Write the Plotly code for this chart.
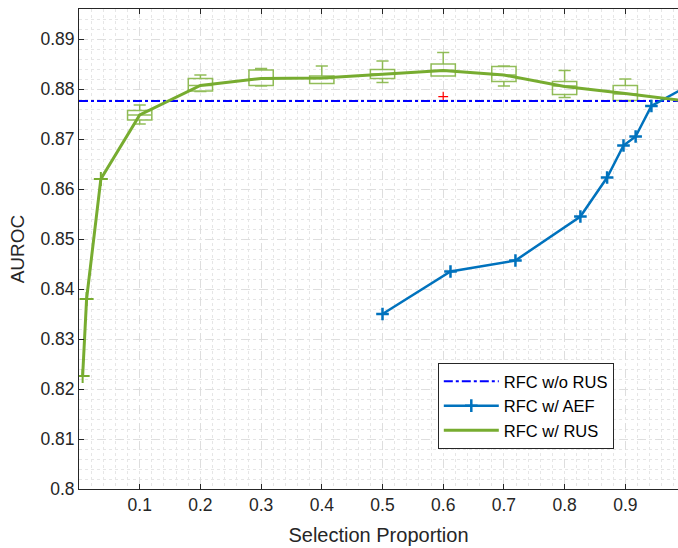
import plotly.graph_objects as go

# ---- data ----
base_y = 0.8776  # RFC w/o RUS

aef_x = [0.5, 0.612, 0.719, 0.826, 0.870, 0.897, 0.917, 0.943, 1.0]
aef_y = [0.8350, 0.8435, 0.8457, 0.8545, 0.8623, 0.8687, 0.8705, 0.8766, 0.8804]

rus_x = [0.006, 0.0125, 0.036, 0.1, 0.2, 0.3, 0.4, 0.5, 0.6, 0.7, 0.8, 0.9, 1.0]
rus_y = [0.8226, 0.8380, 0.8620, 0.8748, 0.8807, 0.8821, 0.8822, 0.8830, 0.8837, 0.8828, 0.8805, 0.8791, 0.8776]

box_x = [0.1, 0.2, 0.3, 0.4, 0.5, 0.6, 0.7, 0.8, 0.9]
box_lf = [0.8730, 0.8795, 0.8806, 0.8811, 0.8813, 0.8826, 0.8806, 0.8783, 0.8776]
box_q1 = [0.8738, 0.8796, 0.8807, 0.8811, 0.8821, 0.8826, 0.8815, 0.8789, 0.8777]
box_med = [0.8748, 0.8807, 0.8820, 0.8821, 0.8830, 0.8837, 0.8828, 0.8806, 0.8790]
box_q3 = [0.8757, 0.8821, 0.8838, 0.8826, 0.8839, 0.8850, 0.8845, 0.8815, 0.8807]
box_uf = [0.8768, 0.8828, 0.8841, 0.8846, 0.8856, 0.8873, 0.8846, 0.8837, 0.8820]

outlier_x = [0.6]
outlier_y = [0.87846]

x_ticks = [0.1, 0.2, 0.3, 0.4, 0.5, 0.6, 0.7, 0.8, 0.9]
y_ticks = [0.80, 0.81, 0.82, 0.83, 0.84, 0.85, 0.86, 0.87, 0.88, 0.89]
y_ticklabels = ["0.8", "0.81", "0.82", "0.83", "0.84", "0.85", "0.86", "0.87", "0.88", "0.89"]

GREEN = "#77AC30"
BLUE = "#0072BD"
FONT = "Liberation Sans"

fig = go.Figure()

fig.add_trace(go.Box(
    x=box_x, q1=box_q1, median=box_med, q3=box_q3,
    lowerfence=box_lf, upperfence=box_uf,
    width=0.04, whiskerwidth=0.5,
    line=dict(color="rgba(119,172,48,0.8)", width=1.5),
    fillcolor="rgba(0,0,0,0)",
    showlegend=False, hoverinfo="skip",
))

fig.add_trace(go.Scatter(
    x=outlier_x, y=outlier_y, mode="markers",
    marker=dict(symbol="cross-thin", size=7, line=dict(color="red", width=1.2)),
    showlegend=False,
))

fig.add_trace(go.Scatter(
    x=[0, 1], y=[base_y, base_y], mode="lines",
    line=dict(color="#0000FF", width=2, dash="dashdot"),
    name="RFC w/o RUS",
))

fig.add_trace(go.Scatter(
    x=aef_x, y=aef_y, mode="lines+markers",
    line=dict(color=BLUE, width=2.5),
    marker=dict(symbol="cross-thin", size=9, line=dict(color=BLUE, width=2.5)),
    name="RFC w/ AEF",
))

fig.add_trace(go.Scatter(
    x=rus_x, y=rus_y, mode="lines",
    line=dict(color=GREEN, width=3),
    name="RFC w/ RUS",
))

fig.add_trace(go.Scatter(
    x=rus_x[:3], y=rus_y[:3], mode="markers",
    marker=dict(symbol="cross-thin", size=10, line=dict(color=GREEN, width=2)),
    showlegend=False,
))

axis_col = "#262626"
fig.update_layout(
    width=678, height=548,
    margin=dict(l=79, r=0, t=9, b=59, autoexpand=False),
    paper_bgcolor="white", plot_bgcolor="white",
    font=dict(family=FONT, color=axis_col, size=17),
    showlegend=True,
    legend=dict(
        x=0.599, y=0.2625, xanchor="left", yanchor="top",
        bordercolor=axis_col, borderwidth=1, bgcolor="white",
        font=dict(size=16.5, family=FONT, color="#000000"),
        tracegroupgap=0, itemwidth=55,
    ),
)

fig.update_xaxes(
    range=[0, 0.9868], tickvals=x_ticks, ticktext=[str(v) for v in x_ticks],
    ticks="inside", ticklen=5, tickcolor=axis_col,
    showline=True, linecolor=axis_col, linewidth=1, mirror="ticks",
    showgrid=True, gridcolor="#dedede", griddash="dash", gridwidth=1,
    minor=dict(dtick=0.02, tick0=0, showgrid=True, gridcolor="#e6e6e6", griddash="dot", ticks=""),
    zeroline=False, automargin=False,
    title=dict(text="Selection Proportion", font=dict(size=20), standoff=13),
    tickfont=dict(size=17.5),
)
fig.update_yaxes(
    range=[0.8, 0.896], tickvals=y_ticks, ticktext=y_ticklabels,
    ticks="inside", ticklen=5, tickcolor=axis_col,
    showline=True, linecolor=axis_col, linewidth=1, mirror=False,
    showgrid=True, gridcolor="#dedede", griddash="dash", gridwidth=1,
    minor=dict(dtick=0.002, tick0=0.8, showgrid=True, gridcolor="#e6e6e6", griddash="dot", ticks=""),
    zeroline=False, automargin=False,
    title=dict(text="AUROC", font=dict(size=19), standoff=10),
    tickfont=dict(size=17.5),
)

fig.write_html(
    "out.html",
    config={"displayModeBar": False},
    post_script="document.body.style.margin='0';document.body.style.overflow='hidden';",
)
